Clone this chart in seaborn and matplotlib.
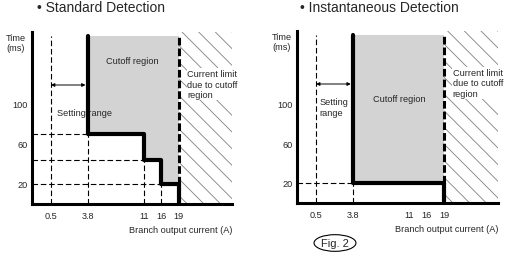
import numpy as np
import matplotlib
matplotlib.use("Agg")
import matplotlib.pyplot as plt
import seaborn as sns

# currents marked on the x axis (A); the axis is schematic, not to scale
currents = [0.5, 3.8, 11, 16, 19]
current_labels = ["0.5", "3.8", "11", "16", "19"]
current_pos = [19, 55.5, 112, 129, 146.5]

time_ticks = [20, 60, 100]
time_labels = ["20", "60", "100"]
time_top = 168

# cutoff staircase: step currents and the time level reached after each step
std_steps = [3.8, 11, 16, 19]
std_times = [70, 44, 20]
inst_steps = [3.8, 19]
inst_times = [20]

setting_range = (0.5, 3.8)

sns.set_style("white")
plt.rcParams["font.family"] = ["Liberation Sans", "DejaVu Sans"]
plt.rcParams["hatch.linewidth"] = 0.6

GRAY = "#d3d3d3"
SMALL = 6.6


def xpos(c):
    return float(np.interp(c, currents, current_pos))


def draw_panel(ax, steps, times):
    levels = [time_top] + times + [0]
    xs, ys = [], []
    for i, c in enumerate(steps):
        xs += [xpos(c), xpos(c)]
        ys += [levels[i], levels[i + 1]]
    x19 = xpos(steps[-1])

    # hatched area beyond the current limit
    ax.fill_between([x19, 200], 0, 172, facecolor="none", edgecolor="#808080",
                    hatch="\\\\", linewidth=0, zorder=1)
    # cutoff region
    ax.fill(xs[:-1] + [x19], ys[:-1] + [time_top], color=GRAY, lw=0, zorder=1)

    # thin dashed guide lines
    thin = dict(color="black", lw=0.8, ls=(0, (5, 2.5)), zorder=2)
    x05 = xpos(setting_range[0])
    ax.plot([x05, x05], [0, time_top], **thin)
    for i in range(len(steps) - 1):
        xc = xpos(steps[i])
        ax.plot([xc, xc], [0, levels[i + 1]], **thin)
        ax.plot([0, xc], [levels[i + 1], levels[i + 1]], **thin)

    # current limit (heavy dashed) and cutoff staircase
    ax.plot([x19, x19], [levels[-2], time_top], color="black", lw=2.2,
            ls=(0, (2.5, 1)), zorder=4)
    sns.lineplot(x=xs, y=ys, sort=False, estimator=None, color="black",
                 lw=3, ax=ax, zorder=4)

    # setting range arrow
    ax.annotate("", xy=(xpos(setting_range[0]), 119),
                xytext=(xpos(setting_range[1]) - 2, 119),
                arrowprops=dict(arrowstyle="<|-|>", color="black", lw=0.7,
                                mutation_scale=5, shrinkA=0, shrinkB=0),
                zorder=3)

    ax.set_xlim(0, 200)
    ax.set_ylim(0, 172)
    ax.set_xticks([xpos(c) for c in currents])
    ax.set_xticklabels(current_labels)
    ax.set_yticks(time_ticks)
    ax.set_yticklabels(time_labels)
    ax.tick_params(length=0, labelsize=SMALL)
    ax.tick_params(axis="x", pad=5)
    ax.tick_params(axis="y", pad=3)
    for s in ["top", "right"]:
        ax.spines[s].set_visible(False)
    for s in ["left", "bottom"]:
        ax.spines[s].set_linewidth(2.2)
        ax.spines[s].set_color("black")
        ax.spines[s].set_zorder(5)
    ax.set_xlabel("Branch output current (A)", fontsize=SMALL, loc="right",
                  labelpad=4)
    ax.set_ylabel("")

    ax.text(155, 120, "Current limit\ndue to cutoff\nregion", fontsize=SMALL,
            va="center", ha="left", linespacing=1.25, zorder=3,
            bbox=dict(fc="white", ec="none", pad=0.3))


fig = plt.figure(figsize=(5.11, 2.55), dpi=100)
W, H = 511, 255
ax1 = fig.add_axes([32 / W, 50 / H, 200 / W, 172 / H])
ax2 = fig.add_axes([297 / W, 51 / H, 201 / W, 172 / H])

draw_panel(ax1, std_steps, std_times)
draw_panel(ax2, inst_steps, inst_times)

ax1.text(100, 143, "Cutoff region", fontsize=SMALL, ha="center", va="center", zorder=3)
ax1.text(25, 92, "Setting range", fontsize=SMALL, ha="left", va="center", zorder=3)
ax2.text(102, 104, "Cutoff region", fontsize=SMALL, ha="center", va="center", zorder=3)
ax2.text(22, 96, "Setting\nrange", fontsize=SMALL, ha="left", va="center",
         linespacing=1.2, zorder=3)

fig.text(101 / W, 1 - 8 / H, "• Standard Detection", fontsize=10,
         ha="center", va="center")
fig.text(379 / W, 1 - 8 / H, "• Instantaneous Detection", fontsize=10,
         ha="center", va="center")
fig.text(6 / W, 1 - 34 / H, "Time\n(ms)", fontsize=SMALL, ha="left", va="top",
         linespacing=1.1)
fig.text(272 / W, 1 - 33 / H, "Time\n(ms)", fontsize=SMALL, ha="left", va="top",
         linespacing=1.1)
fig.text(335 / W, 1 - 244 / H, "Fig. 2", fontsize=8, ha="center", va="center",
         bbox=dict(boxstyle="ellipse,pad=0.08", fc="white", ec="black", lw=0.8))

fig.savefig("out.png", dpi=100)
